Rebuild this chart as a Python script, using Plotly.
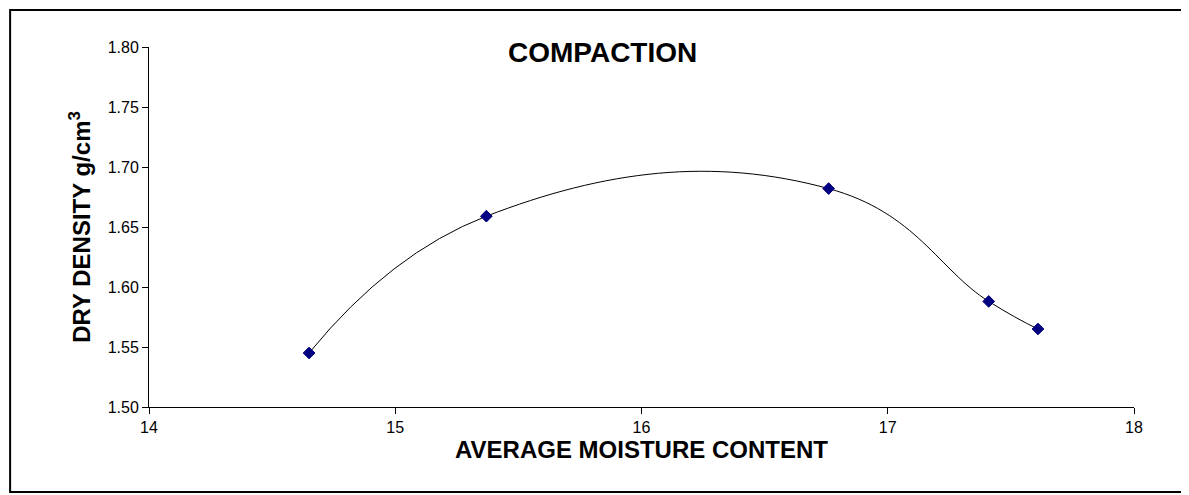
import plotly.graph_objects as go

moisture = [14.65, 15.37, 16.76, 17.41, 17.61]
density = [1.545, 1.659, 1.682, 1.588, 1.565]

fig = go.Figure()
fig.add_trace(go.Scatter(
    x=moisture, y=density, mode="lines+markers",
    line=dict(color="black", width=1, shape="spline", smoothing=1.3),
    marker=dict(symbol="diamond", size=9, color="#000080", line=dict(color="#000080", width=1)),
    showlegend=False,
))

fig.update_layout(
    width=1189, height=495,
    margin=dict(l=141, r=63, t=39, b=96),
    paper_bgcolor="white", plot_bgcolor="white",
    font=dict(family="Arial, Liberation Sans", color="black"),
    xaxis=dict(range=[14, 18], dtick=1, showline=True, linecolor="black", ticks="outside",
               ticklen=6, tickcolor="black", showgrid=False, zeroline=False,
               tickfont=dict(size=16),
               title=dict(text="<b>AVERAGE MOISTURE CONTENT</b>", font=dict(size=24), standoff=4)),
    yaxis=dict(range=[1.50, 1.80], dtick=0.05, tickformat=".2f", showline=True, linecolor="black",
               ticks="outside", ticklen=6, tickcolor="black", showgrid=False, zeroline=False,
               tickfont=dict(size=16),
               title=dict(text="<b>DRY DENSITY g/cm<sup>3</sup></b>", font=dict(size=24), standoff=10)),
)
fig.add_annotation(text="<b>COMPACTION</b>", xref="paper", yref="paper", x=0.46, y=0.985,
                   showarrow=False, font=dict(size=28), yanchor="middle")
fig.add_shape(type="rect", xref="paper", yref="paper", x0=-0.141, x1=1.052, y0=-0.236, y1=1.103,
              line=dict(color="black", width=2))
fig.write_html("out.html")
